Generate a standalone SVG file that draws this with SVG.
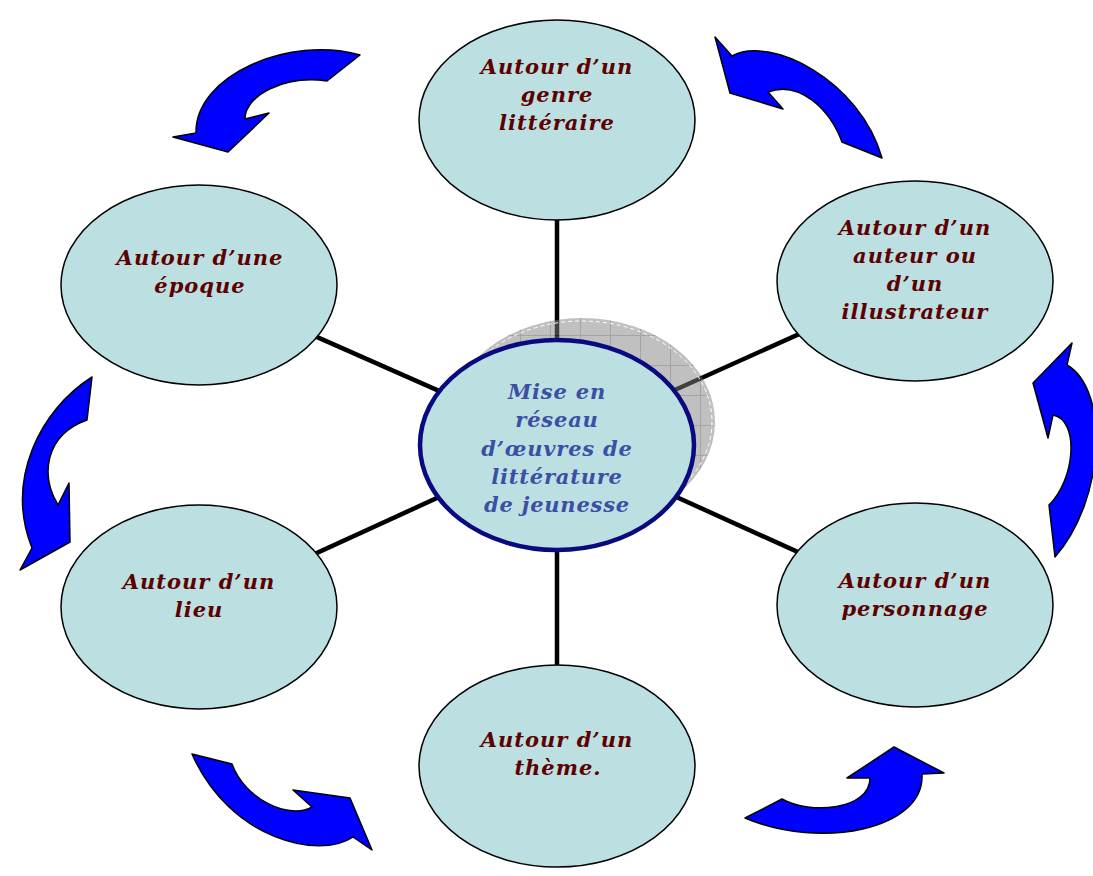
<svg xmlns="http://www.w3.org/2000/svg" width="1093" height="876" viewBox="0 0 1093 876">
<style>
.node{fill:#bce0e2;stroke:#000;stroke-width:1.5}
.t{font-family:"DejaVu Serif","Liberation Serif",serif;font-weight:bold;font-style:italic;font-size:21px;letter-spacing:1px;fill:#5c0000;text-anchor:middle}
.ct{fill:#3c4fa4;letter-spacing:0.8px}
.arr{fill:#0000ff;stroke:#000;stroke-width:1.5;stroke-linejoin:round}
.conn{stroke:#000;stroke-width:4.5}
</style>
<defs>
<pattern id="grid" width="30" height="30" patternUnits="userSpaceOnUse" x="10" y="5">
<rect width="30" height="30" fill="#808080"/>
<path d="M0 0.5H30M0.5 0V30" stroke="#4a4a4a" stroke-width="1"/>
</pattern>
</defs>
<g id="connectors">
<line class="conn" x1="557" y1="443" x2="557" y2="120"/>
<line class="conn" x1="557" y1="443" x2="557" y2="765"/>
<line class="conn" x1="557" y1="443" x2="199" y2="285"/>
<line class="conn" x1="557" y1="443" x2="199" y2="607"/>
<line class="conn" x1="557" y1="443" x2="915" y2="282"/>
<line class="conn" x1="557" y1="443" x2="915" y2="605"/>
</g>
<g id="arrows">
<path class="arr" d="M360,55 C290,35 195,75 196,133 L173,137 L228,152 L269,113 L245,119 C245,95 285,75 327,81 Z"/>
<path class="arr" d="M715,37 L732,56 C770,35 860,80 882,158 L842,142 C830,110 800,80 768,92 L783,109 L730,93 Z"/>
<path class="arr" d="M92,377 C40,410 5,480 32,548 L20,570 L70,542 L69,483 L58,505 C40,475 45,435 87,420 Z"/>
<path class="arr" d="M1072,343 L1067,365 C1110,390 1105,500 1055,557 L1049,505 C1075,480 1080,420 1053,415 L1048,438 L1033,383 Z"/>
<path class="arr" d="M192,754 L232,764 C245,800 290,820 312,807 L293,790 L350,798 L372,850 L353,837 C320,860 230,840 192,754 Z"/>
<path class="arr" d="M745,818 L782,799 C810,815 870,810 870,778 L847,778 L894,747 L944,773 L922,774 C925,830 820,850 745,818 Z"/>
</g>
<g id="node-genre">
<ellipse class="node" cx="557" cy="120" rx="138" ry="100"/>
<text class="t" x="557" y="74">Autour d’un</text>
<text class="t" x="557" y="102">genre</text>
<text class="t" x="557" y="130">littéraire</text>
</g>
<g id="node-epoque">
<ellipse class="node" cx="199" cy="285" rx="138" ry="100"/>
<text class="t" x="200" y="265">Autour d’une</text>
<text class="t" x="200" y="293">époque</text>
</g>
<g id="node-auteur">
<ellipse class="node" cx="915" cy="281" rx="138" ry="100"/>
<text class="t" x="915" y="235">Autour d’un</text>
<text class="t" x="915" y="263">auteur ou</text>
<text class="t" x="915" y="291">d’un</text>
<text class="t" x="915" y="319">illustrateur</text>
</g>
<g id="node-lieu">
<ellipse class="node" cx="199" cy="607" rx="138" ry="102"/>
<text class="t" x="199" y="589">Autour d’un</text>
<text class="t" x="199" y="617">lieu</text>
</g>
<g id="node-personnage">
<ellipse class="node" cx="915" cy="605" rx="138" ry="102"/>
<text class="t" x="915" y="588">Autour d’un</text>
<text class="t" x="915" y="616">personnage</text>
</g>
<g id="node-theme">
<ellipse class="node" cx="557" cy="766" rx="138" ry="101"/>
<text class="t" x="557" y="747">Autour d’un</text>
<text class="t" x="558" y="775">thème.</text>
</g>
<g id="node-center">
<ellipse cx="582" cy="422" rx="133" ry="104" fill="url(#grid)" opacity="0.5"/>
<ellipse cx="582" cy="422" rx="130" ry="101" fill="none" stroke="#ffffff" stroke-width="1" stroke-dasharray="4 3"/>
<ellipse cx="557" cy="445" rx="137" ry="105" fill="#bce0e2" stroke="#0a0a80" stroke-width="4.5"/>
<text class="t ct" x="557" y="399">Mise en</text>
<text class="t ct" x="557" y="427">réseau</text>
<text class="t ct" x="557" y="456">d’œuvres de</text>
<text class="t ct" x="557" y="484">littérature</text>
<text class="t ct" x="557" y="512">de jeunesse</text>
</g>
</svg>
